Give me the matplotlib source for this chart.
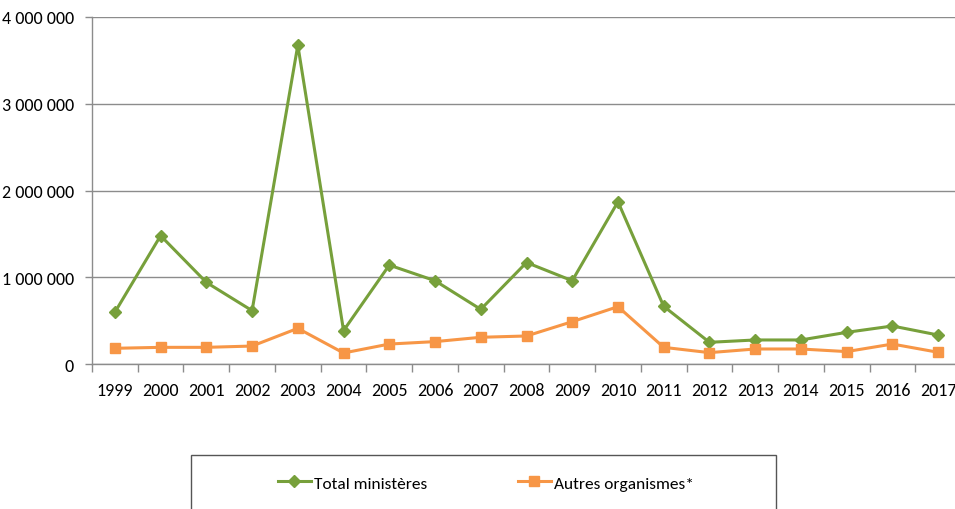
import matplotlib
matplotlib.use("Agg")
import matplotlib.pyplot as plt
from matplotlib.ticker import FuncFormatter, FixedLocator
from matplotlib.lines import Line2D
from matplotlib.patches import Rectangle

plt.rcParams['font.family'] = ['Carlito', 'DejaVu Sans']

years = [str(y) for y in range(1999, 2018)]
total_ministeres = [596000, 1479000, 941000, 615000, 3675000, 385000, 1140000, 960000,
                    630000, 1170000, 960000, 1870000, 665000, 250000, 277000, 277000,
                    365000, 438000, 334000]
autres_organismes = [181000, 192000, 192000, 207000, 411000, 127000, 230000, 258000,
                     308000, 323000, 488000, 661000, 192000, 131000, 173000, 173000,
                     143000, 230000, 135000]
series_labels = ["Total ministères", "Autres organismes*"]
green = "#77A03B"
orange = "#F79646"
grid_c = "#8C8C8C"

fig = plt.figure(figsize=(9.55, 5.10), dpi=100)
ax = fig.add_axes([92/955, 1 - 365/510, (961-92)/955, (365-18)/510])

x = list(range(len(years)))
ax.plot(x, total_ministeres, color=green, lw=2.2, marker='D', ms=6.5, mfc=green, mec=green,
        label=series_labels[0], zorder=3)
ax.plot(x, autres_organismes, color=orange, lw=2.2, marker='s', ms=7.5, mfc=orange, mec=orange,
        label=series_labels[1], zorder=3)

ax.set_xlim(-0.5, len(years) - 0.5)
ax.set_ylim(0, 4000000)
ax.set_yticks([0, 1000000, 2000000, 3000000, 4000000])
ax.yaxis.set_major_formatter(FuncFormatter(lambda v, p: f"{int(v):,}".replace(",", " ")))
ax.set_xticks(x)
ax.set_xticklabels(years)
ax.xaxis.set_minor_locator(FixedLocator([i - 0.5 for i in range(len(years) + 1)]))
ax.tick_params(axis='x', which='major', length=0, pad=13, labelsize=13, colors='black')
ax.tick_params(axis='x', which='minor', length=6, color=grid_c, width=1)
ax.tick_params(axis='y', length=5, color=grid_c, width=1, labelsize=13, pad=8)

ax.grid(axis='y', color=grid_c, lw=1)
ax.set_axisbelow(True)
for s in ['top', 'right']:
    ax.spines[s].set_visible(False)
ax.spines['left'].set_color(grid_c)
ax.spines['bottom'].set_color(grid_c)
ax.spines['left'].set_linewidth(1)
ax.spines['bottom'].set_linewidth(1)

# Legend box (cut at the bottom of the image)
box = Rectangle((191/955, -0.05), (776-191)/955, (510-456)/510 + 0.05,
                transform=fig.transFigure, fill=False, edgecolor="#555555", lw=1)
fig.patches.append(box)
handles = [Line2D([0], [0], color=green, lw=2.2, marker='D', ms=6),
           Line2D([0], [0], color=orange, lw=2.2, marker='s', ms=7)]
fig.legend(handles, series_labels, loc='center', bbox_to_anchor=(486/955, 1 - 484/510),
           ncol=2, frameon=False, fontsize=12.5, columnspacing=5.2, handlelength=1.9,
           handletextpad=0.2)

fig.savefig("out.png", dpi=100)
